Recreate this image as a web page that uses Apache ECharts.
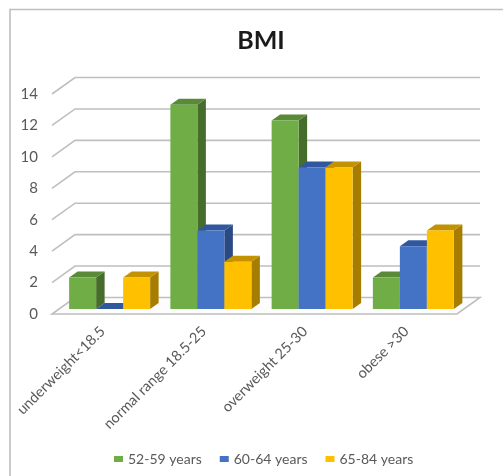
<!DOCTYPE html>
<html>
<head>
<meta charset="utf-8">
<style>html,body{margin:0;padding:0;background:#fff}#chart{width:503px;height:476px}</style>
<script src="https://cdn.jsdelivr.net/npm/echarts@6/dist/echarts.min.js"></script>
</head>
<body>
<div id="chart"></div>
<script>
const categories = ['underweight<18.5', 'normal range 18.5-25', 'overweight 25-30', 'obese >30'];
const seriesNames = ['52-59 years', '60-64 years', '65-84 years'];
const youngest = [2, 13, 12, 2];
const middle = [0, 5, 9, 4];
const oldest = [2, 3, 9, 5];
const yTicks = [0, 2, 4, 6, 8, 10, 12, 14];

// Shades for each column: front, top and side faces.
const faces = [
  { front: '#70AD47', top: '#598A38', side: '#466D2C' },
  { front: '#4472C4', top: '#31589F', side: '#2B4A84' },
  { front: '#FFC000', top: '#C29200', side: '#A67D00' }
];

// Oblique projection used to fake the 3D box.
const WALL_DX = 23, WALL_DY = -16.5;
const BAR_DX = 8.5, BAR_DY = -6;
const BAR_OFFSET_X = 7, BAR_OFFSET_Y = -5;
const EDGE = '#BFBFBF';
const INK = '#595959';

function renderWalls(params, api) {
  const cs = params.coordSys;
  const tick = api.value(0);
  const y = api.coord([0, tick])[1];
  const left = cs.x, right = cs.x + cs.width;
  const children = [];
  if (tick === 0) {
    children.push({
      type: 'polygon',
      shape: { points: [[left, y], [right, y], [right + WALL_DX, y + WALL_DY], [left + WALL_DX, y + WALL_DY]] },
      style: { fill: '#FDFDFD', stroke: EDGE, lineWidth: 1.6 }
    });
  } else {
    children.push({
      type: 'polyline',
      shape: { points: [[left, y], [left + WALL_DX, y + WALL_DY], [right + WALL_DX, y + WALL_DY]] },
      style: { fill: 'none', stroke: EDGE, lineWidth: 1.6 }
    });
  }
  return { type: 'group', children };
}

function makeBarRenderer(idx) {
  return function (params, api) {
    const cat = api.value(0);
    const val = api.value(1);
    const band = api.size([1, 0])[0];
    const w = band * 0.8 / 3;
    const center = api.coord([cat, 0])[0] + BAR_OFFSET_X + (idx - 1) * w;
    const x0 = center - w / 2, x1 = center + w / 2;
    const yb = api.coord([cat, 0])[1] + BAR_OFFSET_Y;
    const yt = api.coord([cat, val])[1] + BAR_OFFSET_Y;
    const f = faces[idx];
    return {
      type: 'group',
      children: [
        { type: 'polygon',
          shape: { points: [[x1, yt], [x1 + BAR_DX, yt + BAR_DY], [x1 + BAR_DX, yb + BAR_DY], [x1, yb]] },
          style: { fill: f.side } },
        { type: 'polygon',
          shape: { points: [[x0, yt], [x0 + BAR_DX, yt + BAR_DY], [x1 + BAR_DX, yt + BAR_DY], [x1, yt]] },
          style: { fill: f.top } },
        { type: 'rect',
          shape: { x: x0, y: yt, width: w, height: yb - yt },
          style: { fill: f.front } }
      ]
    };
  };
}

const barValues = [youngest, middle, oldest];

const chart = echarts.init(document.getElementById('chart'), null, { renderer: 'canvas' });
chart.setOption({
  animation: false,
  backgroundColor: '#FFFFFF',
  title: {
    text: 'BMI',
    left: 256,
    top: 23,
    textAlign: 'center',
    textStyle: { fontFamily: 'Lato', fontWeight: 'bold', fontSize: 25, color: '#1A1A1A' }
  },
  legend: {
    data: seriesNames,
    left: 109,
    top: 447,
    icon: 'rect',
    itemWidth: 9,
    itemHeight: 6,
    itemGap: 18,
    textStyle: { fontFamily: 'Lato', fontSize: 14, color: INK },
    selectedMode: false
  },
  grid: { left: 52, right: 46, top: 94, bottom: 162 },
  xAxis: {
    type: 'category',
    data: categories,
    axisLine: { show: false },
    axisTick: { show: false },
    axisLabel: {
      rotate: 45,
      interval: 0,
      margin: 15,
      fontFamily: 'Lato',
      fontSize: 14.5,
      color: INK
    }
  },
  yAxis: {
    type: 'value',
    min: 0,
    max: 14,
    interval: 2,
    axisLine: { show: false },
    axisTick: { show: false },
    splitLine: { show: false },
    axisLabel: { margin: 14, fontFamily: 'Lato', fontSize: 15, color: INK }
  },
  graphic: [{
    type: 'polyline',
    shape: { points: [[10, 476], [10, 9.5], [503, 9.5]] },
    style: { fill: 'none', stroke: EDGE, lineWidth: 1.6 },
    silent: true
  }],
  series: [
    {
      type: 'custom',
      name: 'walls',
      silent: true,
      z: 1,
      renderItem: renderWalls,
      encode: { y: 0 },
      data: yTicks.map(t => [t])
    }
  ].concat(seriesNames.map((name, idx) => ({
    type: 'custom',
    name,
    z: 2 + idx,
    itemStyle: { color: faces[idx].front },
    renderItem: makeBarRenderer(idx),
    encode: { x: 0, y: 1 },
    data: barValues[idx].map((v, i) => [i, v])
  })))
});
</script>
</body>
</html>
